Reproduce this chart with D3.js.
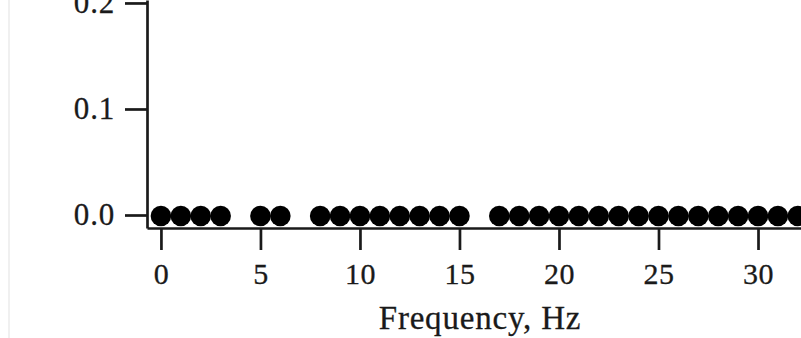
<!DOCTYPE html>
<html>
<head>
<meta charset="utf-8">
<script src="https://cdn.jsdelivr.net/npm/d3@7"></script>
<style>
  html, body { margin: 0; padding: 0; background: #fff; }
  svg { display: block; }
</style>
</head>
<body>
<div id="chart"></div>
<script>
// frequencies (Hz) that carry a point, and their amplitudes
const frequencies = [0, 1, 2, 3, 5, 6, 8, 9, 10, 11, 12, 13, 14, 15,
    17, 18, 19, 20, 21, 22, 23, 24, 25, 26, 27, 28, 29, 30, 31, 32];
const amplitudes = [0, 0, 0, 0, 0, 0, 0, 0, 0, 0, 0, 0, 0, 0,
    0, 0, 0, 0, 0, 0, 0, 0, 0, 0, 0, 0, 0, 0, 0, 0];
const xTicks = [0, 5, 10, 15, 20, 25, 30];
const yTicks = [0.0, 0.1, 0.2];

const width = 801, height = 338;
const marginLeft = 147, marginBottom = 110;

const x = d3.scaleLinear([-0.7, 32.16], [marginLeft, width]);
const y = d3.scaleLinear([-0.01226, 0.2028], [height - marginBottom, 0]);

const svg = d3.select("#chart").append("svg")
    .attr("width", width)
    .attr("height", height)
    .attr("viewBox", [0, 0, width, height]);

// faint edge of the scanned page
svg.append("line")
    .attr("x1", 9).attr("x2", 9)
    .attr("y1", 0).attr("y2", height)
    .attr("stroke", "#f0f0f0")
    .attr("stroke-width", 2);

const font = "'Liberation Serif', 'Times New Roman', serif";
const ink = "#1a1a1a";

svg.append("g")
    .selectAll("circle")
    .data(frequencies)
    .join("circle")
    .attr("cx", d => x(d))
    .attr("cy", (d, i) => y(amplitudes[i]) + 1)
    .attr("r", 10.3)
    .attr("fill", "#000");

svg.append("g")
    .attr("transform", `translate(0,${height - marginBottom})`)
    .call(d3.axisBottom(x).tickValues(xTicks).tickFormat(d3.format("d"))
        .tickSize(22).tickSizeOuter(0).tickPadding(13))
    .call(g => g.select(".domain").attr("stroke", ink).attr("stroke-width", 2.7))
    .call(g => g.selectAll(".tick line").attr("stroke", ink).attr("stroke-width", 2.7))
    .call(g => g.selectAll(".tick text")
        .attr("font-family", font)
        .attr("font-size", 30)
        .attr("letter-spacing", 0.5)
        .attr("stroke", ink)
        .attr("stroke-width", 0.3)
        .attr("fill", ink));

svg.append("g")
    .attr("transform", `translate(${marginLeft},0)`)
    .call(d3.axisLeft(y).tickValues(yTicks).tickFormat(d3.format(".1f"))
        .tickSize(22).tickSizeOuter(0).tickPadding(10))
    .call(g => g.select(".domain").attr("stroke", ink).attr("stroke-width", 2.7))
    .call(g => g.selectAll(".tick line").attr("stroke", ink).attr("stroke-width", 2.7))
    .call(g => g.selectAll(".tick text")
        .attr("font-family", font)
        .attr("font-size", 31)
        .attr("letter-spacing", 0.8)
        .attr("stroke", ink)
        .attr("stroke-width", 0.3)
        .attr("fill", ink));

svg.append("text")
    .attr("x", 480)
    .attr("y", 329)
    .attr("text-anchor", "middle")
    .attr("font-family", font)
    .attr("font-size", 33)
    .attr("letter-spacing", 0.8)
    .attr("stroke", ink)
    .attr("stroke-width", 0.3)
    .attr("fill", ink)
    .text("Frequency, Hz");
</script>
</body>
</html>
